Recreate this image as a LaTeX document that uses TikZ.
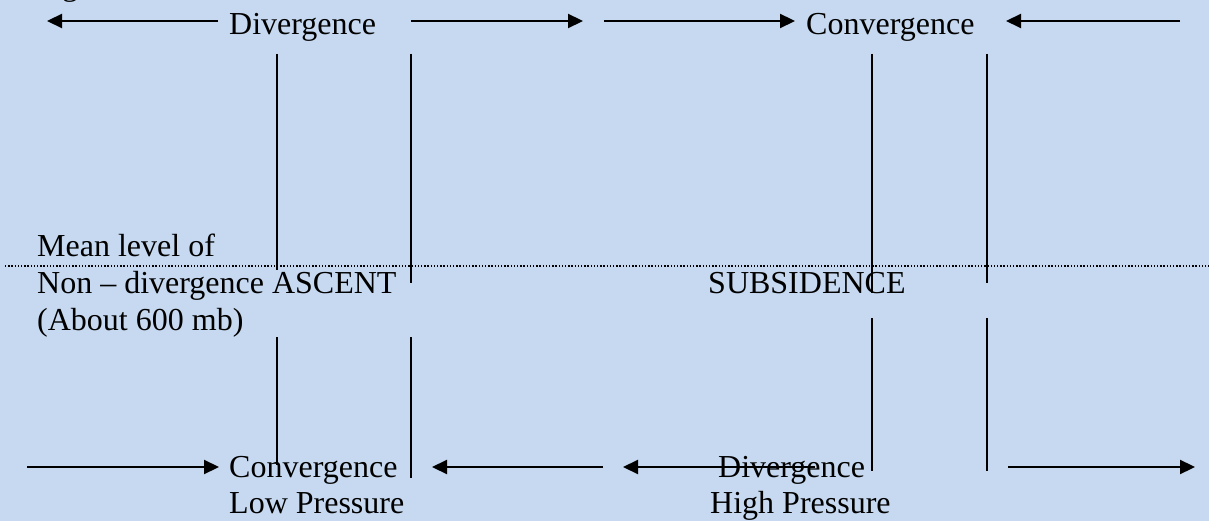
\documentclass[tikz,border=0pt]{standalone}
\usepackage{fontspec}
\setmainfont{Liberation Serif}
\usetikzlibrary{arrows.meta}
\definecolor{sky}{HTML}{C6D9F0}
\begin{document}
\begin{tikzpicture}[x=1pt,y=-1pt,
  lbl/.style={inner sep=0pt, anchor=base west, font=\fontsize{32}{37}\selectfont},
  flow/.style={line width=2.2pt, -{Triangle[length=15pt,width=14pt]}},
  wall/.style={line width=2pt},
  level/.style={line width=1.3pt, dash pattern=on 1.3pt off 1.9pt}]
% page
\fill[sky] (0,0) rectangle (1209,521);
\useasboundingbox (0,0) rectangle (1209,521);
\begin{scope}
  \clip (0,0) rectangle (1209,521);
  \node[lbl] (hdr) at (30,-4) {High};
\end{scope}

% labels, upper level
\node[lbl] (divT) at (229,35) {Divergence};
\node[lbl] (conT) at (806,35) {Convergence};
% labels, middle level
\node[lbl] (mean1) at (37,256) {Mean level of};
\node[lbl] (mean2) at (37,293) {Non -- divergence ASCENT};
\node[lbl] (mean3) at (37,330) {(About 600 mb)};
\node[lbl] (subs) at (708,293) {SUBSIDENCE};
% labels, surface
\node[lbl] (conB) at (229,477) {Convergence};
\node[lbl] (lowB) at (229,513) {Low Pressure};
\node[lbl] (divB) at (718,477) {Divergence};
\node[lbl] (highB) at (710,513) {High Pressure};

% level of non-divergence
\coordinate (lvlW) at (5,266);
\coordinate (lvlE) at (1209,266);
\draw[level] (lvlW) -- (lvlE);

% column walls
\coordinate (a1) at (277,54);  \coordinate (a2) at (277,270);
\coordinate (a3) at (277,337); \coordinate (a4) at (277,465);
\coordinate (b1) at (411,54);  \coordinate (b2) at (411,283);
\coordinate (b3) at (411,337); \coordinate (b4) at (411,478);
\coordinate (c1) at (872,54);  \coordinate (c2) at (872,293);
\coordinate (c3) at (872,318); \coordinate (c4) at (872,471);
\coordinate (d1) at (987,54);  \coordinate (d2) at (987,283);
\coordinate (d3) at (987,318); \coordinate (d4) at (987,471);
\draw[wall] (a1) -- (a2) (a3) -- (a4);
\draw[wall] (b1) -- (b2) (b3) -- (b4);
\draw[wall] (c1) -- (c2) (c3) -- (c4);
\draw[wall] (d1) -- (d2) (d3) -- (d4);

% upper-level flow
\coordinate (u1s) at (218,21);  \coordinate (u1e) at (47,21);
\coordinate (u2s) at (411,21);  \coordinate (u2e) at (583,21);
\coordinate (u3s) at (604,21);  \coordinate (u3e) at (795,21);
\coordinate (u4s) at (1180,21); \coordinate (u4e) at (1006,21);
\draw[flow] (u1s) -- (u1e);
\draw[flow] (u2s) -- (u2e);
\draw[flow] (u3s) -- (u3e);
\draw[flow] (u4s) -- (u4e);

% surface flow
\coordinate (s1s) at (27,467);   \coordinate (s1e) at (219,467);
\coordinate (s2s) at (603,467);  \coordinate (s2e) at (432,467);
\coordinate (s3s) at (815,467);  \coordinate (s3e) at (623,467);
\coordinate (s4s) at (1008,467); \coordinate (s4e) at (1195,467);
\draw[flow] (s1s) -- (s1e);
\draw[flow] (s2s) -- (s2e);
\draw[flow] (s3s) -- (s3e);
\draw[flow] (s4s) -- (s4e);
\end{tikzpicture}
\end{document}
